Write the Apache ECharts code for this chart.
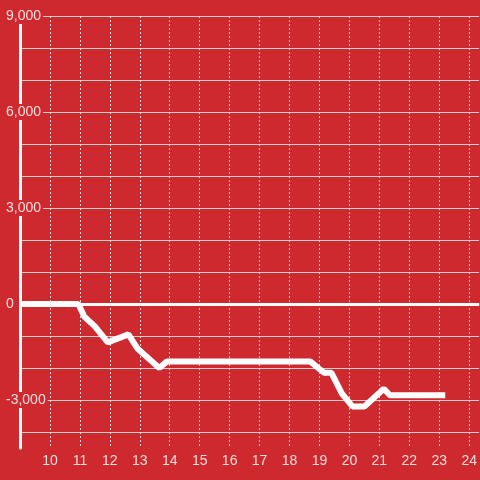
<!DOCTYPE html>
<html>
<head>
<meta charset="utf-8">
<script src="https://cdn.jsdelivr.net/npm/echarts@6/dist/echarts.min.js"></script>
<style>
  html, body { margin: 0; padding: 0; background: #cd292e; }
  #chart { width: 480px; height: 480px; }
</style>
</head>
<body>
<div id="chart"></div>
<script>
// 数据
var xValues = [9, 10.95, 11.15, 11.5, 11.93, 12.62, 12.93, 13.65, 13.9, 18.7, 19.15, 19.4, 19.75, 20.1, 20.5, 21.15, 21.35, 23.2];
var yValues = [0, 0, -400, -700, -1200, -950, -1400, -2000, -1800, -1800, -2150, -2150, -2800, -3200, -3200, -2650, -2850, -2850];
var yTickLabels = [-3000, 0, 3000, 6000, 9000];
var xTickLabels = [10, 11, 12, 13, 14, 15, 16, 17, 18, 19, 20, 21, 22, 23, 24];

var bg = '#cd292e';
var textColor = '#f3dede';

var points = [];
for (var i = 0; i < xValues.length; i++) {
    points.push([xValues[i], yValues[i]]);
}

var chart = echarts.init(document.getElementById('chart'));

var option = {
    backgroundColor: bg,
    animation: false,
    grid: { left: 20, right: 0, top: 16, bottom: 32, containLabel: false },
    xAxis: {
        type: 'value',
        min: 9,
        max: 9 + 460 / 30,
        interval: 1,
        axisLine: { show: false },
        axisTick: { show: false },
        axisLabel: {
            customValues: xTickLabels,
            color: textColor,
            fontSize: 14,
            fontFamily: 'Liberation Sans',
            margin: 6
        },
        splitLine: {
            show: true,
            showMinLine: false,
            showMaxLine: false,
            lineStyle: { color: '#d8d8d8', width: 1, type: [2, 2] }
        }
    },
    yAxis: {
        type: 'value',
        min: -4500,
        max: 9000,
        interval: 500,
        axisLine: { show: true, lineStyle: { color: '#ffffff', width: 3 } },
        axisTick: { show: false },
        axisLabel: {
            customValues: yTickLabels,
            formatter: function (v) { return echarts.format.addCommas(v); },
            color: textColor,
            fontSize: 14,
            fontFamily: 'Liberation Sans',
            align: 'left',
            margin: 14,
            backgroundColor: bg,
            padding: [1, 2, 1, 0]
        },
        splitLine: {
            show: true,
            lineStyle: { color: ['rgba(0,0,0,0)', '#cfcfcf'], width: 1 }
        }
    },
    series: [
        {
            type: 'line',
            data: points,
            symbol: 'none',
            lineStyle: { color: '#ffffff', width: 6 },
            markLine: {
                silent: true,
                symbol: ['none', 'none'],
                label: { show: false },
                lineStyle: { color: '#ffffff', width: 3, type: 'solid' },
                data: [{ yAxis: 0 }]
            }
        }
    ]
};

chart.setOption(option);
</script>
</body>
</html>
